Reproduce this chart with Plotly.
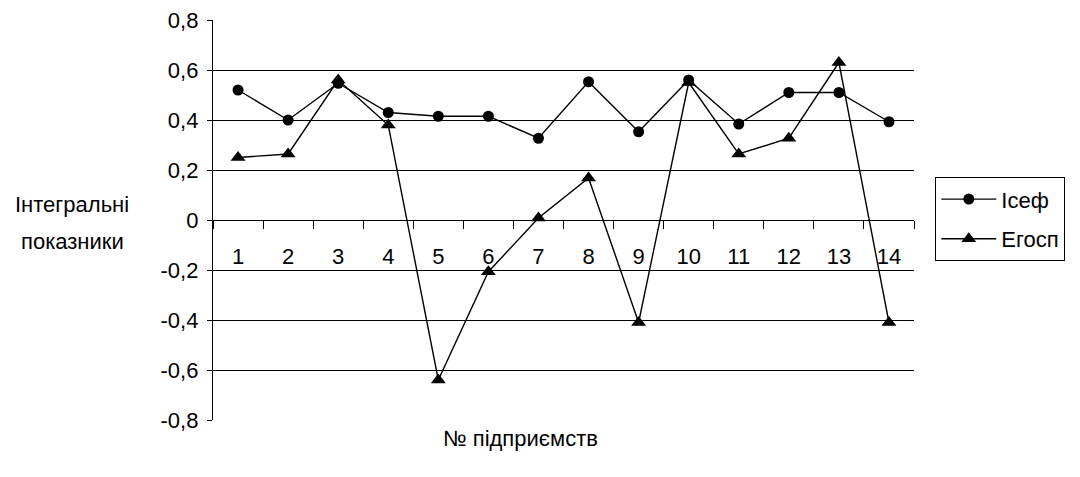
import plotly.graph_objects as go

categories = [str(i) for i in range(1, 15)]
isef = [0.52, 0.40, 0.547, 0.43, 0.415, 0.415, 0.327, 0.553, 0.353, 0.56, 0.384, 0.51, 0.51, 0.393]
egosp = [0.25, 0.264, 0.56, 0.38, -0.64, -0.207, 0.008, 0.168, -0.41, 0.55, 0.264, 0.327, 0.63, -0.41]
series_names = ["Ісеф", "Егосп"]
y_ticks = [-0.8, -0.6, -0.4, -0.2, 0, 0.2, 0.4, 0.6, 0.8]
y_ticktext = ["-0,8", "-0,6", "-0,4", "-0,2", "0", "0,2", "0,4", "0,6", "0,8"]
y_title_lines = ["Інтегральні", "показники"]
x_title = "№ підприємств"

FONT = "Liberation Sans, Arial, sans-serif"
W, H = 1080, 477
L, R, T, B = 213, 166, 20, 57
PW, PH = W - L - R, H - T - B


def px_x(x):
    return (x - L) / PW


def px_y(y):
    return (H - B - y) / PH


fig = go.Figure()
fig.add_trace(go.Scatter(
    x=categories, y=isef, name=series_names[0], mode="lines+markers",
    legendgroup="a",
    line=dict(color="black", width=1.4),
    marker=dict(symbol="circle", size=11, color="black"),
))
fig.add_trace(go.Scatter(
    x=categories, y=egosp, name=series_names[1], mode="lines+markers",
    legendgroup="b",
    line=dict(color="black", width=1.4),
    marker=dict(symbol="triangle-up", size=13, color="black"),
))

fig.update_layout(
    width=W, height=H,
    margin=dict(l=L, r=R, t=T, b=B, autoexpand=False),
    paper_bgcolor="white", plot_bgcolor="white",
    font=dict(family=FONT, size=22, color="black"),
    showlegend=True,
    legend=dict(
        x=px_x(935), y=px_y(177), xanchor="left", yanchor="top",
        bordercolor="black", borderwidth=1.3, bgcolor="white",
        font=dict(family=FONT, size=22, color="black"),
        itemwidth=55, tracegroupgap=8,
    ),
    xaxis=dict(
        type="category", categoryorder="array", categoryarray=categories,
        range=[-0.5, 13.5],
        anchor="free", position=0.5,
        showline=True, linecolor="black", linewidth=1.4,
        ticks="outside", tickson="boundaries", ticklen=8, tickcolor="black", tickwidth=1.4,
        showgrid=False, zeroline=False,
        ticklabelstandoff=16,
        tickfont=dict(family=FONT, size=22, color="black"),
    ),
    yaxis=dict(
        range=[-0.8, 0.8], tickvals=y_ticks, ticktext=y_ticktext,
        showline=True, linecolor="black", linewidth=1.4,
        ticks="outside", ticklen=5, tickcolor="black", tickwidth=1.4,
        ticklabelstandoff=4,
        showgrid=True, gridcolor="black", gridwidth=1.4,
        zeroline=False,
        tickfont=dict(family=FONT, size=22, color="black"),
    ),
    annotations=[
        dict(text=y_title_lines[0], x=px_x(72), xref="paper", y=px_y(204), yref="paper",
             xanchor="center", yanchor="middle",
             showarrow=False, font=dict(family=FONT, size=22, color="black")),
        dict(text=y_title_lines[1], x=px_x(72), xref="paper", y=px_y(241), yref="paper",
             xanchor="center", yanchor="middle",
             showarrow=False, font=dict(family=FONT, size=22, color="black")),
        dict(text=x_title, x=px_x(520), xref="paper", y=px_y(438), yref="paper",
             xanchor="center", yanchor="middle",
             showarrow=False, font=dict(family=FONT, size=22, color="black")),
    ],
)

fig.write_html("out.html", config={"displayModeBar": False},
               post_script="document.body.style.margin='0';")
